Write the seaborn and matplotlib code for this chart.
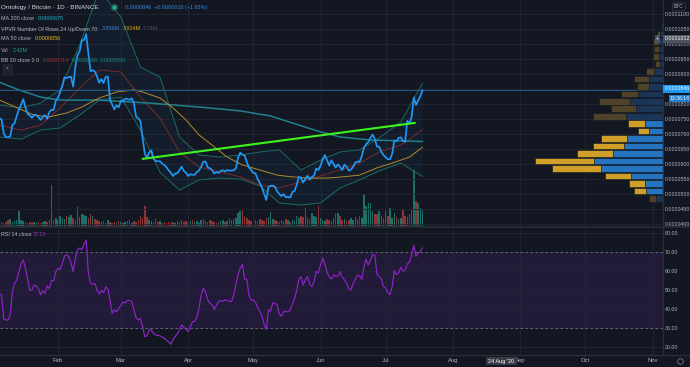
import numpy as np
import pandas as pd
import matplotlib
matplotlib.use("Agg")
import matplotlib.pyplot as plt
from matplotlib.lines import Line2D
import seaborn as sns

# ONT/BTC daily closes (satoshi), 2020-01-05 .. 2020-07-18
start_date = "2020-01-05"
close_sats = [
    7520, 7490, 7020, 6900, 6890, 6920, 7300, 7360, 7600, 7820,
    7970, 8160, 7890, 7670, 7620, 7540, 7630, 7640, 7560, 7470,
    7560, 7630, 7510, 7730, 7810, 7800, 8110, 8210, 8410, 8600,
    8890, 8860, 8900, 8910, 8580, 9240, 9630, 9760, 10130, 10130,
    10330, 9690, 9090, 9130, 9080, 8910, 8710, 8830, 8700, 8910,
    8910, 8130, 7980, 7820, 7960, 7890, 8110, 8090, 8180, 8160,
    8140, 8190, 8020, 7580, 7520, 7430, 6860, 6360, 6200, 6380,
    6460, 6180, 6100, 6090, 6090, 6010, 5970, 5890, 5790, 5710,
    5600, 5680, 5690, 5800, 5910, 5770, 5710, 5600, 5660, 5640,
    5640, 5730, 5780, 5910, 6080, 6080, 5890, 5860, 5800, 5680,
    5730, 5700, 5770, 5790, 5750, 5800, 5780, 5780, 5790, 5860,
    6210, 6380, 6310, 6290, 6070, 5880, 5810, 5700, 5690, 5500,
    5370, 5220, 5000, 4800, 5240, 5270, 5280, 5240, 5090, 5000,
    4930, 5000, 4890, 4900, 4880, 5060, 5100, 5300, 5580, 5530,
    5380, 5510, 5610, 5480, 5570, 5610, 5850, 5800, 5950, 6160,
    6300, 6130, 5950, 6120, 6000, 5880, 5990, 5900, 5800, 5980,
    5910, 5780, 5810, 5900, 6050, 6080, 6070, 6260, 6540, 6660,
    6730, 6870, 6980, 6830, 6580, 6580, 6400, 6300, 6220, 6160,
    6160, 6330, 6780, 6760, 6870, 6890, 6770, 6740, 7440, 7350,
    7580, 8220, 7970, 8120, 8260, 8460,
]
# daily volume, millions
volume_m = [
    0.45, 0.60, 0.45, 0.60, 0.90, 1.05, 0.60, 0.75, 0.90, 2.25,
    0.90, 0.75, 0.60, 0.45, 0.60, 0.45, 0.60, 0.45, 0.60, 0.45,
    0.60, 0.75, 0.60, 0.90, 6.15, 0.90, 1.20, 0.90, 1.50, 1.20,
    1.05, 1.50, 1.35, 1.65, 1.20, 0.90, 2.85, 1.35, 1.80, 1.65,
    1.50, 1.20, 1.80, 1.50, 1.05, 0.90, 0.75, 0.60, 0.75, 0.45,
    0.90, 0.60, 0.45, 0.60, 0.45, 0.75, 0.60, 0.45, 0.60, 0.75,
    0.90, 0.45, 0.75, 0.60, 0.90, 1.50, 1.20, 3.00, 1.35, 0.90,
    0.75, 0.60, 1.05, 0.60, 0.75, 0.45, 0.60, 0.45, 0.60, 0.45,
    0.60, 0.45, 0.75, 0.60, 0.90, 0.60, 0.75, 0.45, 0.75, 0.90,
    0.60, 0.75, 0.45, 0.90, 1.05, 0.75, 0.60, 0.90, 0.75, 0.60,
    0.45, 0.60, 0.75, 0.90, 0.60, 0.75, 1.20, 0.90, 1.05, 1.20,
    1.95, 2.25, 2.40, 1.50, 1.20, 0.90, 0.75, 0.60, 0.90, 0.75,
    1.05, 0.90, 0.75, 1.20, 1.35, 2.10, 1.05, 0.90, 0.75, 0.60,
    0.90, 0.75, 1.05, 0.90, 0.60, 0.90, 0.75, 1.50, 1.20, 1.50,
    1.35, 2.70, 1.20, 1.05, 1.95, 1.50, 1.35, 3.00, 1.20, 0.90,
    0.75, 1.05, 0.90, 0.75, 1.20, 1.95, 1.95, 1.50, 0.90, 1.05,
    0.75, 0.90, 1.20, 0.90, 1.35, 1.05, 1.50, 1.20, 4.80, 3.00,
    3.45, 3.45, 2.25, 1.80, 1.80, 2.25, 1.50, 1.20, 2.25, 1.50,
    2.70, 1.20, 1.95, 1.35, 1.05, 1.20, 2.40, 1.50, 1.35, 1.80,
    2.55, 8.40, 3.75, 3.45, 2.70, 2.42,
]
rsi_14 = [
    48.2, 47.4, 34.9, 34.2, 34.2, 36.8, 49.1, 53.3, 55.3, 59.6,
    63.9, 65.8, 61.4, 55.8, 49.8, 50.0, 52.6, 52.1, 50.7, 47.4,
    49.7, 48.2, 52.1, 50.7, 55.1, 54.7, 59.6, 61.4, 60.7, 63.9,
    67.9, 68.4, 67.5, 64.4, 59.8, 66.5, 71.1, 72.1, 71.2, 74.0,
    76.3, 58.8, 53.5, 53.0, 53.5, 50.0, 47.9, 49.7, 48.6, 51.6,
    50.7, 44.4, 37.7, 39.5, 38.6, 40.4, 41.8, 43.7, 43.2, 44.4,
    44.6, 43.9, 39.5, 35.5, 34.2, 34.9, 30.7, 25.5, 25.8, 29.0,
    29.1, 27.2, 26.3, 26.2, 25.8, 25.3, 24.6, 23.5, 22.7, 21.4,
    23.9, 25.5, 26.9, 29.1, 31.6, 30.4, 29.3, 28.1, 30.4, 33.4,
    33.5, 35.5, 40.4, 47.4, 50.9, 49.0, 44.9, 43.0, 42.3, 39.8,
    41.8, 43.9, 44.4, 44.1, 44.8, 44.4, 44.1, 43.9, 47.4, 53.2,
    58.1, 61.6, 63.5, 55.8, 55.6, 47.4, 44.6, 44.8, 43.5, 40.9,
    38.8, 36.5, 32.0, 29.1, 39.5, 38.8, 43.2, 43.0, 42.0, 37.4,
    36.2, 38.6, 38.8, 38.4, 39.5, 42.6, 45.4, 49.7, 55.8, 57.0,
    52.6, 55.3, 57.2, 53.0, 51.8, 54.4, 59.8, 58.9, 63.3, 66.7,
    63.7, 59.3, 57.0, 55.8, 57.9, 57.2, 57.4, 59.6, 56.8, 55.3,
    53.7, 50.7, 50.0, 53.2, 55.6, 57.7, 57.4, 55.6, 62.3, 66.3,
    63.2, 65.6, 68.6, 68.4, 58.4, 57.0, 56.0, 51.8, 51.1, 48.8,
    47.4, 51.8, 60.2, 58.1, 59.1, 62.0, 60.0, 60.5, 63.7, 64.8,
    68.5, 73.5, 67.7, 69.3, 70.4, 72.2,
]

# moving averages (satoshi)
ma200_dates = ["2020-01-05", "2020-01-14", "2020-01-24", "2020-02-02", "2020-02-20",
               "2020-03-14", "2020-04-06", "2020-04-25", "2020-05-09", "2020-05-22",
               "2020-06-01", "2020-06-10", "2020-06-24", "2020-07-18"]
ma200_sats = [8730, 8470, 8230, 8130, 8130, 8030, 7900, 7770, 7600, 7300,
              7070, 6900, 6800, 6750]
ma50_dates = ["2020-01-05", "2020-01-21", "2020-01-28", "2020-02-05", "2020-02-12",
              "2020-02-20", "2020-02-28", "2020-03-07", "2020-03-11", "2020-03-19",
              "2020-03-25", "2020-03-31", "2020-04-06", "2020-04-12", "2020-04-19",
              "2020-04-26", "2020-05-04", "2020-05-12", "2020-05-19", "2020-05-27",
              "2020-06-04", "2020-06-11", "2020-06-19", "2020-06-27", "2020-07-04",
              "2020-07-12", "2020-07-18"]
ma50_sats = [8130, 7630, 7570, 7700, 7900, 8200, 8400, 8470, 8400, 8200,
             7870, 7470, 6970, 6630, 6230, 5970, 5800, 5630, 5570, 5530,
             5530, 5570, 5630, 5870, 6030, 6230, 6560]

# Bollinger bands 20, 2
bb_dates = ["2020-01-05", "2020-01-15", "2020-01-24", "2020-02-02", "2020-02-11",
            "2020-02-20", "2020-03-01", "2020-03-10", "2020-03-19", "2020-03-28",
            "2020-04-06", "2020-04-16", "2020-04-25", "2020-05-04", "2020-05-13",
            "2020-05-23", "2020-06-01", "2020-06-10", "2020-06-19", "2020-06-28",
            "2020-07-08", "2020-07-18"]
bb_upper = [7970, 7870, 8030, 8470, 9970, 11800, 10900, 9230, 8900, 6900, 6300,
            6230, 6300, 6400, 6470, 5800, 6130, 6400, 6470, 6870, 7400, 8690]
bb_basis = [7300, 7130, 7300, 7870, 8530, 9130, 9070, 8230, 7530, 6400, 5900,
            5730, 5570, 5300, 5200, 5400, 5600, 5800, 6030, 6400, 6630, 7140]
bb_lower = [6900, 6830, 7130, 7200, 7630, 8130, 8230, 7130, 5730, 5130, 5470,
            5530, 5500, 5270, 4700, 4630, 4700, 5200, 5470, 5770, 6030, 5580]

# hand drawn trend line
trend_dates = ["2020-03-11 00:00", "2020-07-14 12:00"]
trend_sats = [6170, 7370]

# volume profile, 24 rows from low to high price (thousands)
vp_low, vp_high = 4733, 10700
vp_up = [55, 133, 140, 250, 484, 538, 390, 304, 281, 109, 140, 289,
         211, 257, 195, 109, 109, 70, 23, 31, 31, 31, 23, 16]
vp_down = [55, 94, 125, 203, 382, 460, 281, 242, 203, 86, 133, 257,
           195, 242, 133, 94, 117, 62, 39, 47, 39, 47, 23, 0]
vp_value_area = [0, 1, 1, 1, 1, 1, 1, 1, 1, 1, 1, 0,
                 0, 0, 0, 0, 0, 0, 0, 0, 0, 0, 0, 0]

month_ticks = ["2020-02-01", "2020-03-01", "2020-04-01", "2020-05-01", "2020-06-01",
               "2020-07-01", "2020-08-01", "2020-09-01", "2020-10-01", "2020-11-01"]
month_labels = ["Feb", "Mar", "Apr", "May", "Jun", "Jul", "Aug", "Sep", "Oct", "Nov"]

W, H = 690, 367
bg = "#131722"
grid_c = "#222631"
txt_c = "#b2b5be"

sns.set_theme(style="dark", rc={
    "figure.facecolor": bg, "axes.facecolor": bg, "savefig.facecolor": bg,
    "axes.edgecolor": bg, "grid.color": grid_c, "text.color": txt_c,
    "xtick.color": txt_c, "ytick.color": txt_c,
})
plt.rcParams["font.family"] = ["Liberation Sans", "DejaVu Sans"]

df = pd.DataFrame({
    "date": pd.date_range(start_date, periods=len(close_sats), freq="D"),
    "close": np.array(close_sats) / 1e8,
    "vol": volume_m,
    "rsi": rsi_14,
})
months = pd.to_datetime(month_ticks)

fig = plt.figure(figsize=(W / 100, H / 100), dpi=100)


def label(x, y, s, color=txt_c, size=3.9, **kw):
    kw.setdefault("ha", "left")
    fig.text(x / W, 1 - y / H, s, color=color, fontsize=size, va="center", **kw)


# pixel layout of the two panes
rect_price = [0, 1 - 226 / H, 663 / W, 226 / H]
rect_rsi = [0, 12 / H, 663 / W, 127 / H]
t0 = pd.Timestamp("2020-01-01")
x_left = t0 + pd.Timedelta(days=9.3 / 2.17)
x_right = t0 + pd.Timedelta(days=672.3 / 2.17)
y_lo, y_hi = 3.933e-5, 1.1467e-4
scale_fs = 3.8

# --- volume (behind price) ---
ax_vol = fig.add_axes(rect_price)
vol_colors = np.where(df["close"].diff().fillna(0) >= 0, "#1f6f69", "#8a3436")
ax_vol.bar(df["date"], df["vol"], width=0.7, color=vol_colors, linewidth=0)
ax_vol.set_xlim(x_left, x_right)
ax_vol.set_ylim(0, 33.9)
ax_vol.axis("off")

# --- price pane ---
ax = fig.add_axes(rect_price)
ax.set_facecolor("none")
ax.fill_between(pd.to_datetime(bb_dates), np.array(bb_lower) / 1e8,
                np.array(bb_upper) / 1e8, color="#2196f3", alpha=0.05, lw=0)
for vals, col, lw in [(bb_upper, "#1c6a63", 0.7), (bb_lower, "#1c6a63", 0.7),
                      (bb_basis, "#7a2c2e", 0.7)]:
    sns.lineplot(x=pd.to_datetime(bb_dates), y=np.array(vals) / 1e8, ax=ax,
                 color=col, lw=lw)
sns.lineplot(x=pd.to_datetime(ma200_dates), y=np.array(ma200_sats) / 1e8, ax=ax,
             color="#21808e", lw=1.1)
sns.lineplot(x=pd.to_datetime(ma50_dates), y=np.array(ma50_sats) / 1e8, ax=ax,
             color="#b38a2a", lw=0.7)
ax.axhline(close_sats[-1] / 1e8, color="#23598c", lw=0.7)
sns.lineplot(data=df, x="date", y="close", ax=ax, color="#2196f3", lw=1.25)
sns.lineplot(x=pd.to_datetime(trend_dates, format="%Y-%m-%d %H:%M"),
             y=np.array(trend_sats) / 1e8, ax=ax, color="#3cf51c", lw=1.5)

ax.set_xlim(x_left, x_right)
ax.set_ylim(y_lo, y_hi)
ax.yaxis.tick_right()
yt = np.arange(4.0e-5, 1.1e-4 + 1e-9, 5e-6)
ax.set_yticks(yt)
ax.set_yticklabels([f"{v:.7f}" for v in yt])
ax.set_xticks(months)
ax.tick_params(axis="y", length=0, pad=1.5, labelsize=scale_fs, colors=txt_c)
ax.tick_params(axis="x", length=0, labelbottom=False)
ax.grid(True, color=grid_c, lw=0.6)
ax.set_xlabel("")
ax.set_ylabel("")
for s in ax.spines.values():
    s.set_visible(False)

# --- volume profile ---
ax_vp = fig.add_axes(rect_price)
edges = np.linspace(vp_low, vp_high, len(vp_up) + 1) / 1e8
centers = (edges[:-1] + edges[1:]) / 2
row_h = (edges[1] - edges[0]) * 0.88
up_cols = ["#2474bf" if v else "#1b3556" for v in vp_value_area]
dn_cols = ["#d09f2a" if v else "#4e4328" for v in vp_value_area]
ax_vp.barh(centers, vp_up, height=row_h, color=up_cols, edgecolor=bg, lw=0.4)
ax_vp.barh(centers, vp_down, left=vp_up, height=row_h, color=dn_cols, edgecolor=bg, lw=0.4)
ax_vp.set_ylim(y_lo, y_hi)
ax_vp.set_xlim(5169, 0)
ax_vp.axis("off")

# --- RSI pane ---
ax_r = fig.add_axes(rect_rsi)
ax_r.axhspan(30, 70, color="#211a38", lw=0, zorder=0.2)
ax_r.axhline(70, color="#6f7280", lw=0.6, ls=(0, (3, 3)))
ax_r.axhline(30, color="#6f7280", lw=0.6, ls=(0, (3, 3)))
sns.lineplot(data=df, x="date", y="rsi", ax=ax_r, color="#8e24c8", lw=0.85)
ax_r.set_xlim(x_left, x_right)
ax_r.set_ylim(15.79, 82.63)
ax_r.yaxis.tick_right()
ax_r.set_yticks(range(20, 81, 10))
ax_r.set_yticklabels([f"{v:.2f}" for v in range(20, 81, 10)])
ax_r.set_xticks(months)
ax_r.set_xticklabels(month_labels)
ax_r.tick_params(axis="y", length=0, pad=1.5, labelsize=scale_fs, colors=txt_c)
ax_r.tick_params(axis="x", length=0, pad=2.5, labelsize=4.2, colors=txt_c)
ax_r.grid(True, color=grid_c, lw=0.6)
ax_r.set_axisbelow(True)
ax_r.set_xlabel("")
ax_r.set_ylabel("")
for s in ax_r.spines.values():
    s.set_visible(False)

# pane borders
sep_c = "#2a2e39"
fig.add_artist(Line2D([0, 1], [1 - 227 / H] * 2, color=sep_c, lw=1.2, transform=fig.transFigure))
fig.add_artist(Line2D([0, 1], [1 - 355 / H] * 2, color=sep_c, lw=1.0, transform=fig.transFigure))
fig.add_artist(Line2D([663 / W] * 2, [1 - 355 / H, 1], color=sep_c, lw=1.0, transform=fig.transFigure))

# legend rows
label(1, 7, "Ontology / Bitcoin · 1D · BINANCE", "#d1d4dc", 4.6)
fig.add_artist(Line2D([114 / W], [1 - 7 / H], marker="o", ms=4.5, color="#1d4a42",
                      transform=fig.transFigure))
fig.add_artist(Line2D([114 / W], [1 - 7 / H], marker="o", ms=2.2, color="#26a69a",
                      transform=fig.transFigure))
label(125, 7, "0.0000846  +0.0000016 (+1.93%)", "#2e8ee6")
label(1, 18, "MA 200 close")
label(38, 18, "0.0000675", "#26b5c9")
label(1, 29, "VPVR Number Of Rows 24 Up/Down 70")
label(102, 29, "3.856M", "#2f86d8")
label(123, 29, "3.934M", "#d9a620")
label(143, 29, "7.79M", "#4a4e58")
label(1, 39, "MA 50 close")
label(35, 39, "0.0000656", "#e8b923")
label(1, 50, "Vol")
label(13, 50, "2.42M", "#1f9c8e")
label(1, 60, "BB 20 close 2 0")
label(43, 60, "0.0000714", "#a3302e")
label(72, 60, "0.0000869", "#1a8c7c")
label(100, 60, "0.0000558", "#1a8c7c")
label(7.5, 69.5, "^", txt_c, 4.0, ha="center",
      bbox=dict(boxstyle="square,pad=0.5", fc="#1e222d", ec="#2a2e39", lw=0.5))
label(1, 234, "RSI 14 close")
label(33, 234, "72.23", "#9c27b0")

# right-hand scale labels
label(679, 7, "BTC", txt_c, 3.6, ha="center",
      bbox=dict(boxstyle="round,pad=0.3", fc=bg, ec="#434651", lw=0.5))
label(657.5, 39, "+", "white", 4.0, ha="center",
      bbox=dict(boxstyle="square,pad=0.25", fc="#4c525e", ec="none"))
label(665, 39, "0.0001012", "white", scale_fs,
      bbox=dict(boxstyle="square,pad=0.3", fc="#4c525e", ec="none"))
label(665, 89, "0.0000846", "white", scale_fs,
      bbox=dict(boxstyle="square,pad=0.3", fc="#2196f3", ec="none"))
label(670, 98.5, "13:36:14", "white", 3.7,
      bbox=dict(boxstyle="square,pad=0.25", fc="#1e7fd0", ec="none"))

# time axis extras
label(501.5, 361, "24 Aug '20", "white", 4.0, ha="center",
      bbox=dict(boxstyle="square,pad=0.35", fc="#363a45", ec="none"))
fig.add_artist(Line2D([680 / W], [1 - 361 / H], marker="o", ms=4, mfc="none",
                      mec="#787b86", mew=0.6, transform=fig.transFigure))

fig.savefig("out.png", dpi=100, facecolor=bg)
